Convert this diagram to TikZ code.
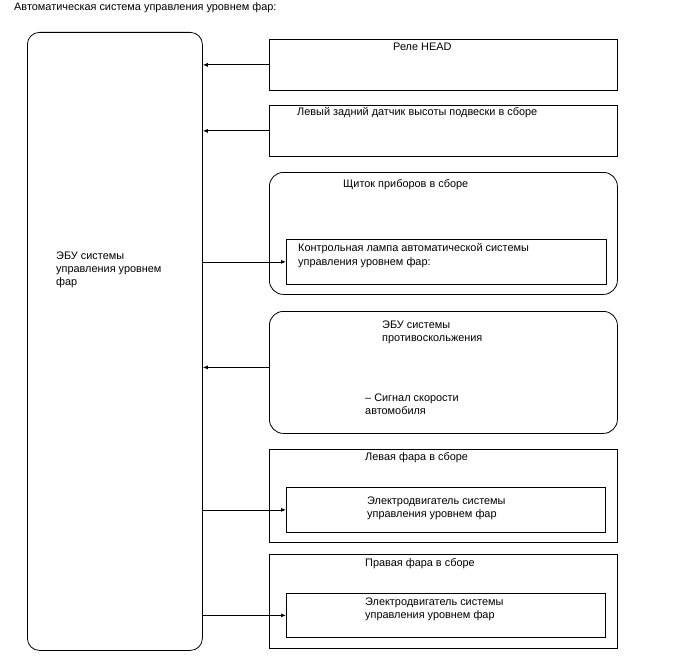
\documentclass[tikz,border=0pt]{standalone}
\usepackage{fontspec}
\setmainfont{Liberation Sans}
\usetikzlibrary{arrows.meta, positioning}

\begin{document}
\begin{tikzpicture}[
    x=1pt, y=-1pt,
    blk/.style={draw, line width=0.8pt, inner sep=0pt, anchor=north west},
    rblk/.style={blk, rounded corners=14pt},
    lbl/.style={font=\fontsize{10.9}{13.3}\selectfont, inner sep=0pt, anchor=west, align=left},
    arrow/.style={-{Latex[length=5pt, width=4pt]}, line width=0.8pt}
]
\useasboundingbox (0,0) rectangle (688,658);

\node[lbl] (title) at (14,8) {Автоматическая система управления уровнем фар:};

% ECU
\node[blk, rounded corners=12pt, minimum width=175pt, minimum height=618pt] (ecu) at (27,32) {};
\node[lbl] (ecut) at (56,270) {ЭБУ системы\\управления уровнем\\фар};

% Relay
\node[blk, minimum width=348pt, minimum height=51pt] (relay) at (269,39) {};
\node[lbl] (relayt) at (393,47) {Реле HEAD};

% Height sensor
\node[blk, minimum width=348pt, minimum height=51pt] (sensor) at (269,105) {};
\node[lbl] (sensort) at (297,113) {Левый задний датчик высоты подвески в сборе};

% Combination meter
\node[rblk, minimum width=348pt, minimum height=122pt] (meter) at (269,172) {};
\node[lbl] (metert) at (343,185) {Щиток приборов в сборе};
\node[blk, minimum width=320pt, minimum height=45pt] (lamp) at (286,239) {};
\node[lbl] (lampt) at (298,255.5) {Контрольная лампа автоматической системы\\управления уровнем фар:};

% Skid control ECU
\node[rblk, minimum width=348pt, minimum height=122pt] (abs) at (269,311) {};
\node[lbl] (abst) at (382,332) {ЭБУ системы\\противоскольжения};
\node[lbl] (speedt) at (365,404.5) {– Сигнал скорости\\автомобиля};

% Left headlight
\node[blk, minimum width=348pt, minimum height=93pt] (hlL) at (269,449) {};
\node[lbl] (hlLt) at (365,458) {Левая фара в сборе};
\node[blk, minimum width=319pt, minimum height=45pt] (motL) at (286,487) {};
\node[lbl] (motLt) at (367,508) {Электродвигатель системы\\управления уровнем фар};

% Right headlight
\node[blk, minimum width=348pt, minimum height=94pt] (hlR) at (269,554) {};
\node[lbl] (hlRt) at (365,564) {Правая фара в сборе};
\node[blk, minimum width=319pt, minimum height=44pt] (motR) at (286,593) {};
\node[lbl] (motRt) at (365,609.5) {Электродвигатель системы\\управления уровнем фар};

% connections
\draw[arrow] (relay.west) -- (relay.west -| ecu.east);
\draw[arrow] (sensor.west) -- (sensor.west -| ecu.east);
\draw[arrow] (lamp.west -| ecu.east) -- (lamp.west);
\draw[arrow] ([yshift=5pt]abs.west) -- ([yshift=5pt]abs.west -| ecu.east);
\draw[arrow] (motL.west -| ecu.east) -- (motL.west);
\draw[arrow] (motR.west -| ecu.east) -- (motR.west);

\end{tikzpicture}
\end{document}
